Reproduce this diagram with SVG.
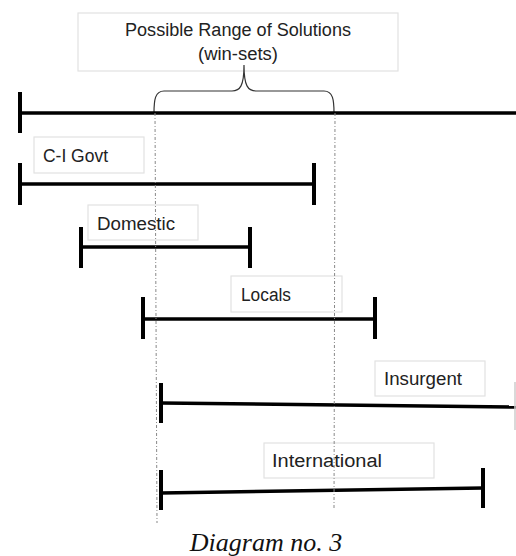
<svg xmlns="http://www.w3.org/2000/svg" width="516" height="556" viewBox="0 0 516 556">
<style>
.box{fill:#fff;stroke:#e2e2e2;stroke-width:1.2}
.lbl{font-family:"Liberation Sans",Arial,sans-serif;font-size:18px;fill:#222}
.bar{stroke:#000;stroke-width:3.5;fill:none}
.tick{stroke:#000;stroke-width:4;fill:none}
.guide{stroke:#888;stroke-width:1;stroke-dasharray:3 2 1 2;fill:none}
.brace{stroke:#333;stroke-width:1.2;fill:none}
</style>
<rect width="516" height="556" fill="#fff"/>
<g id="title">
<rect class="box" x="78" y="13" width="320" height="58"/>
<text class="lbl" x="238" y="36" text-anchor="middle" textLength="226" lengthAdjust="spacingAndGlyphs">Possible Range of Solutions</text>
<text class="lbl" x="238" y="60" text-anchor="middle" textLength="80" lengthAdjust="spacingAndGlyphs">(win-sets)</text>
</g>
<g id="range">
<path class="brace" d="M154,113 C154,100 155,91 164,91 L232,91 C240,91 244,86 244,65 C244,86 248,91 256,91 L324,91 C333,91 334,100 334,113"/>
<line class="bar" x1="18" y1="113" x2="516" y2="113"/>
<line class="tick" x1="20" y1="92" x2="20" y2="133"/>
</g>
<g id="ci-govt">
<rect class="box" x="34" y="137" width="110" height="36"/>
<text class="lbl" x="43" y="162" textLength="65" lengthAdjust="spacingAndGlyphs">C-I Govt</text>
<line class="bar" x1="20" y1="184" x2="314" y2="184"/>
<line class="tick" x1="20" y1="163" x2="20" y2="205"/>
<line class="tick" x1="314" y1="163" x2="314" y2="205"/>
</g>
<g id="domestic">
<rect class="box" x="88" y="205" width="110" height="35"/>
<text class="lbl" x="97" y="230" textLength="78" lengthAdjust="spacingAndGlyphs">Domestic</text>
<line class="bar" x1="81" y1="247" x2="250" y2="247"/>
<line class="tick" x1="81" y1="227" x2="81" y2="268"/>
<line class="tick" x1="250" y1="227" x2="250" y2="268"/>
</g>
<g id="locals">
<rect class="box" x="231" y="276" width="111" height="36"/>
<text class="lbl" x="241" y="301" textLength="50" lengthAdjust="spacingAndGlyphs">Locals</text>
<line class="bar" x1="143" y1="319" x2="375" y2="319"/>
<line class="tick" x1="143" y1="297" x2="143" y2="339"/>
<line class="tick" x1="375" y1="297" x2="375" y2="339"/>
</g>
<g id="insurgent">
<rect class="box" x="375" y="361" width="110" height="35"/>
<text class="lbl" x="384" y="385" textLength="78" lengthAdjust="spacingAndGlyphs">Insurgent</text>
<line class="bar" x1="161" y1="403" x2="516" y2="407"/>
<line class="tick" x1="161" y1="383" x2="161" y2="423"/>
<line x1="515" y1="382" x2="515" y2="430" stroke="#ccc" stroke-width="1.5"/>
</g>
<g id="international">
<rect class="box" x="264" y="443" width="170" height="35"/>
<text class="lbl" x="272" y="467" textLength="110" lengthAdjust="spacingAndGlyphs">International</text>
<line class="bar" x1="161" y1="493" x2="483" y2="488"/>
<line class="tick" x1="161" y1="470" x2="161" y2="510"/>
<line class="tick" x1="483" y1="468" x2="483" y2="508"/>
</g>
<g id="connectors">
<line class="guide" x1="155" y1="113" x2="157" y2="523"/>
<line class="guide" x1="335" y1="113" x2="334" y2="510"/>
</g>
<text x="266" y="551" text-anchor="middle" font-family="'Liberation Serif','Times New Roman',serif" font-style="italic" font-size="26" fill="#111">Diagram no. 3</text>
</svg>
